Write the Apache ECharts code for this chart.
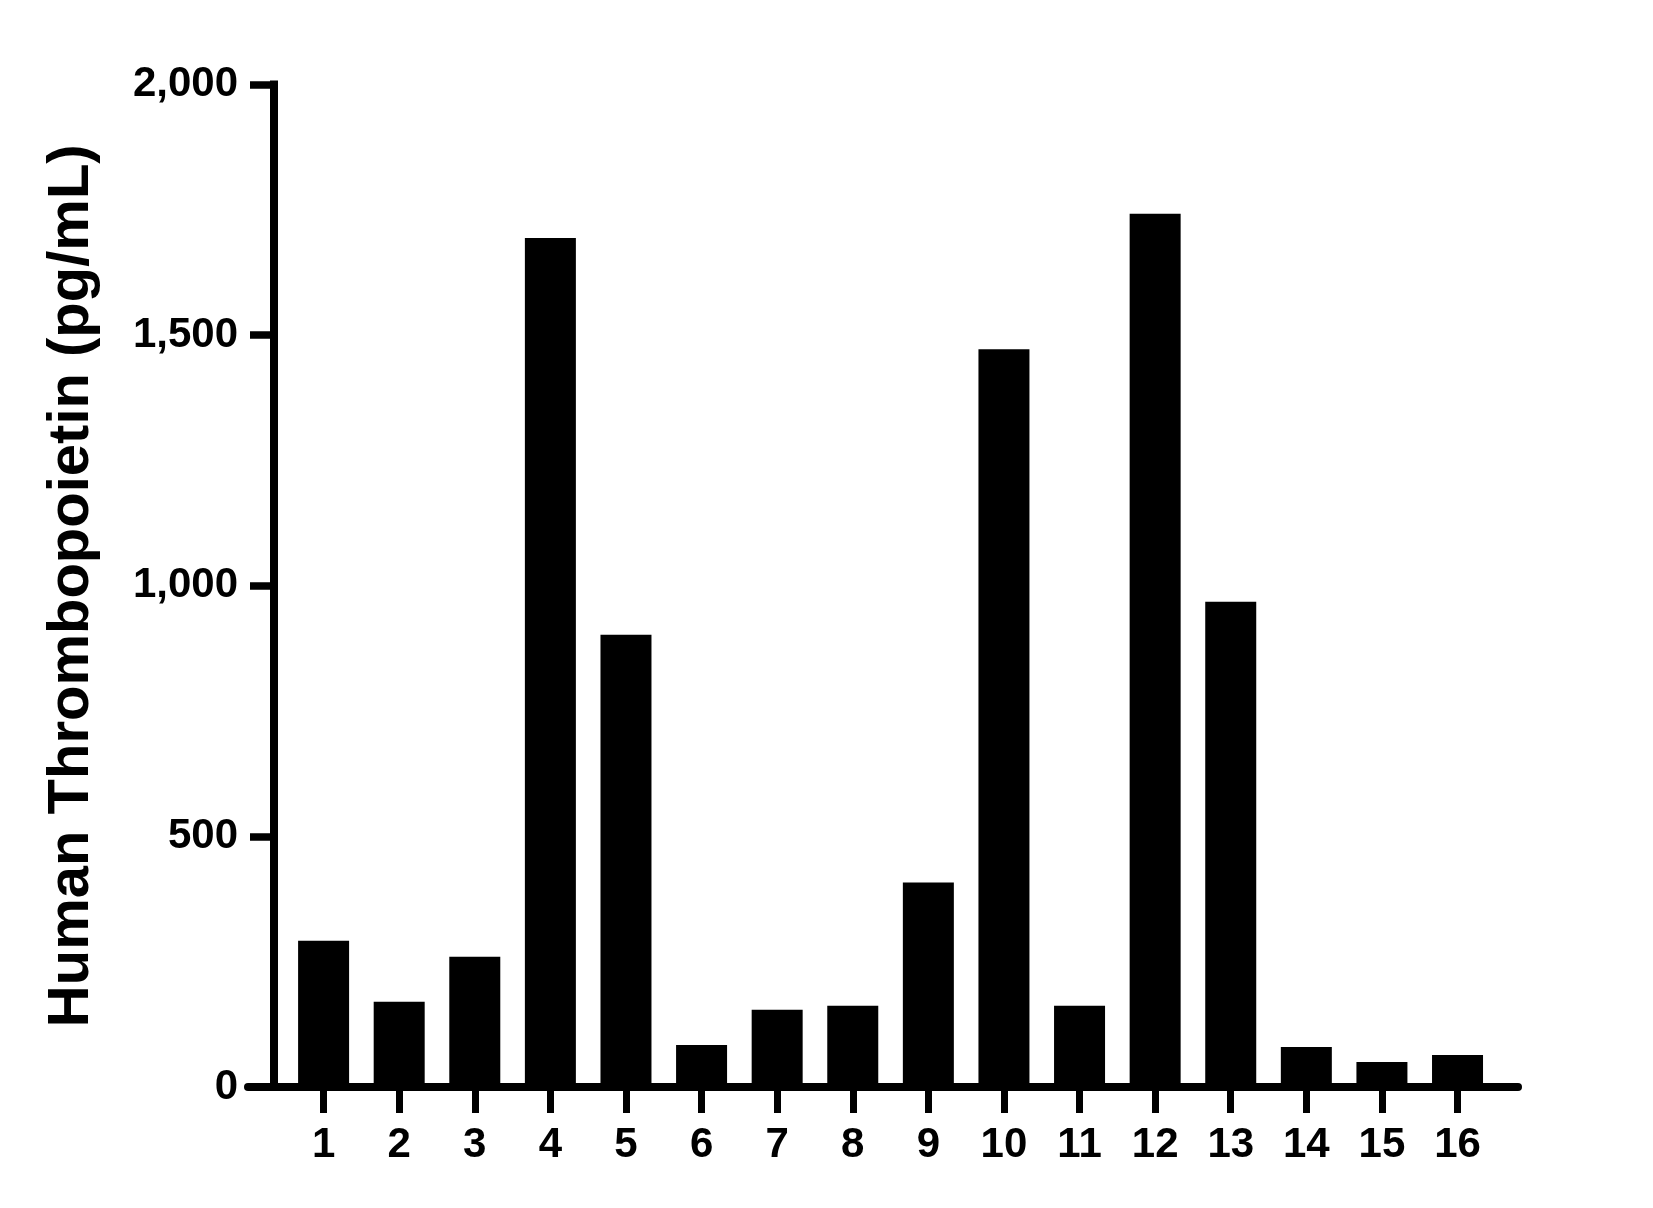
<!DOCTYPE html>
<html>
<head>
<meta charset="utf-8">
<script src="https://cdn.jsdelivr.net/npm/echarts@6/dist/echarts.min.js"></script>
<style>
  html, body { margin: 0; padding: 0; background: #fff; }
  #chart { width: 1653px; height: 1208px; }
</style>
</head>
<body>
<div id="chart"></div>
<script>
// sample numbers on the x axis
const samples = [1, 2, 3, 4, 5, 6, 7, 8, 9, 10, 11, 12, 13, 14, 15, 16];
// thrombopoietin values (pg/mL)
const values = [292, 170, 260, 1694, 902, 84, 154, 162, 408, 1472, 162, 1742, 968, 80, 50, 64];
// y axis ticks
const yTicks = [0, 500, 1000, 1500, 2000];

const FONT = "'Liberation Sans', Arial, sans-serif";

const chart = echarts.init(document.getElementById("chart"));

const option = {
  backgroundColor: "#fff",
  animation: false,
  grid: { left: 248, right: 135, top: 84.5, bottom: 121 },
  xAxis: {
    type: "value",
    min: 0,
    max: 16.8,
    interval: 1,
    splitLine: { show: false },
    axisLine: { show: true, lineStyle: { color: "#000", width: 8 } },
    axisTick: { show: true, length: 26, customValues: samples, lineStyle: { color: "#000", width: 7 } },
    axisLabel: {
      customValues: samples,
      margin: 37,
      color: "#000",
      fontSize: 42,
      fontWeight: "bold",
      fontFamily: FONT,
    },
  },
  yAxis: {
    type: "value",
    min: yTicks[0],
    max: yTicks[yTicks.length - 1],
    interval: 500,
    offset: -26,
    name: "Human Thrombopoietin (pg/mL)",
    nameLocation: "middle",
    nameGap: 173,
    nameTextStyle: { color: "#000", fontSize: 58, fontWeight: "bold", fontFamily: FONT },
    splitLine: { show: false },
    axisLine: { show: true, lineStyle: { color: "#000", width: 8, cap: "square" } },
    axisTick: { show: true, length: 24, lineStyle: { color: "#000", width: 7.5 } },
    axisLabel: {
      margin: 36,
      color: "#000",
      fontSize: 42,
      fontWeight: "bold",
      fontFamily: FONT,
      formatter: (v) => v.toLocaleString("en-US"),
    },
  },
  series: [
    {
      type: "bar",
      data: samples.map((s, i) => [s, values[i]]),
      barWidth: 51,
      itemStyle: { color: "#000" },
      z: 1,
    },
  ],
};

chart.setOption(option);
</script>
</body>
</html>
